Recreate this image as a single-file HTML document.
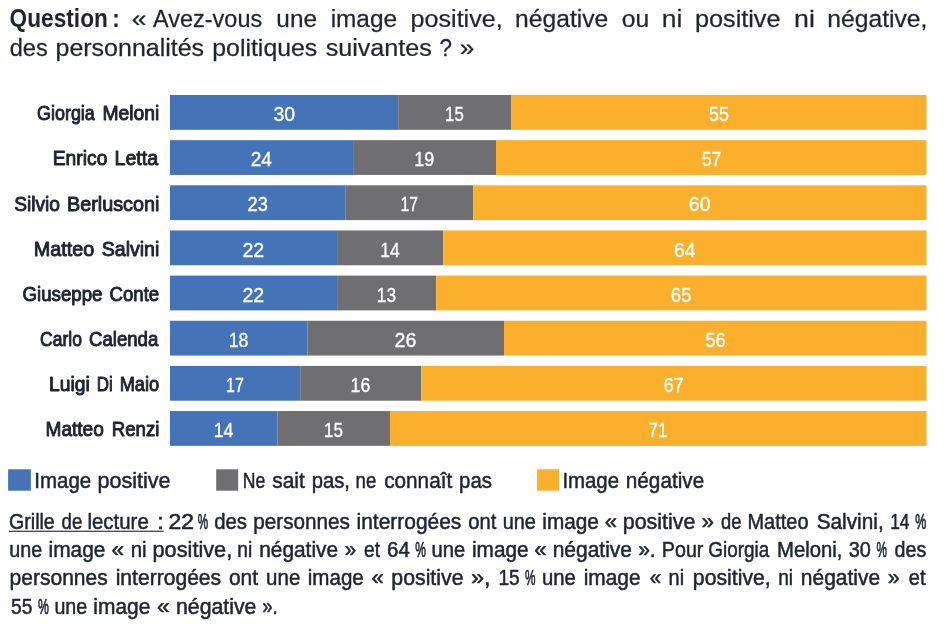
<!DOCTYPE html>
<html lang="fr"><head><meta charset="utf-8"><title>Image des personnalités politiques</title>
<style>html,body{margin:0;padding:0;background:#fff;overflow:hidden}svg{display:block}text{font-family:"Liberation Sans",sans-serif;white-space:pre}.title{font-size:24.5px;font-weight:normal;fill:#1e2432;stroke:#1e2432;stroke-width:0.25;stroke-linejoin:round;}.titleb{font-size:25.5px;font-weight:bold;fill:#1e2432;}.label{font-size:20.5px;font-weight:normal;fill:#1e2432;stroke:#1e2432;stroke-width:0.95;stroke-linejoin:round;}.num{font-size:20.7px;font-weight:normal;fill:#ffffff;stroke:#ffffff;stroke-width:0.35;stroke-linejoin:round;}.leg{font-size:22px;font-weight:normal;fill:#1e2432;stroke:#1e2432;stroke-width:0.5;stroke-linejoin:round;}.foot{font-size:21.5px;font-weight:normal;fill:#1e2432;stroke:#1e2432;stroke-width:0.5;stroke-linejoin:round;}.pct{font-size:15px;font-weight:normal;fill:#1e2432;stroke:#1e2432;stroke-width:0.5;stroke-linejoin:round;}</style></head><body>
<svg width="948" height="626" viewBox="0 0 948 626">
<rect x="0" y="0" width="948" height="626" fill="#ffffff"/>
<rect x="170.00" y="95.00" width="228.20" height="34.80" fill="#4573b7"/>
<rect x="398.20" y="95.00" width="112.80" height="34.80" fill="#6f6f72"/>
<rect x="511.00" y="95.00" width="415.50" height="34.80" fill="#fbb02d"/>
<rect x="170.00" y="140.15" width="183.10" height="34.80" fill="#4573b7"/>
<rect x="353.10" y="140.15" width="142.90" height="34.80" fill="#6f6f72"/>
<rect x="496.00" y="140.15" width="430.50" height="34.80" fill="#fbb02d"/>
<rect x="170.00" y="185.30" width="175.70" height="34.80" fill="#4573b7"/>
<rect x="345.70" y="185.30" width="127.60" height="34.80" fill="#6f6f72"/>
<rect x="473.30" y="185.30" width="453.20" height="34.80" fill="#fbb02d"/>
<rect x="170.00" y="230.45" width="167.10" height="34.80" fill="#4573b7"/>
<rect x="337.10" y="230.45" width="106.20" height="34.80" fill="#6f6f72"/>
<rect x="443.30" y="230.45" width="483.20" height="34.80" fill="#fbb02d"/>
<rect x="170.00" y="275.60" width="167.10" height="34.80" fill="#4573b7"/>
<rect x="337.10" y="275.60" width="99.10" height="34.80" fill="#6f6f72"/>
<rect x="436.20" y="275.60" width="490.30" height="34.80" fill="#fbb02d"/>
<rect x="170.00" y="320.75" width="137.50" height="34.80" fill="#4573b7"/>
<rect x="307.50" y="320.75" width="196.50" height="34.80" fill="#6f6f72"/>
<rect x="504.00" y="320.75" width="422.50" height="34.80" fill="#fbb02d"/>
<rect x="170.00" y="365.90" width="130.20" height="34.80" fill="#4573b7"/>
<rect x="300.20" y="365.90" width="121.00" height="34.80" fill="#6f6f72"/>
<rect x="421.20" y="365.90" width="505.30" height="34.80" fill="#fbb02d"/>
<rect x="170.00" y="411.05" width="107.50" height="34.80" fill="#4573b7"/>
<rect x="277.50" y="411.05" width="112.50" height="34.80" fill="#6f6f72"/>
<rect x="390.00" y="411.05" width="536.50" height="34.80" fill="#fbb02d"/>
<rect x="8.10" y="469.30" width="22.80" height="21.40" fill="#4573b7"/>
<rect x="216.20" y="469.30" width="22.00" height="21.40" fill="#6f6f72"/>
<rect x="537.10" y="469.30" width="22.00" height="21.40" fill="#fbb02d"/>
<rect x="9.0" y="530.7" width="154.6" height="1.1" fill="#1e2432"/>
<text class="titleb" transform="translate(9.61 26.50) scale(0.8895 1)">Question</text>
<text class="titleb" transform="translate(112.24 26.50) scale(0.8800 1)">:</text>
<text class="title" transform="translate(131.75 26.50) scale(1.0857 1)">«</text>
<text class="title" transform="translate(153.12 26.50) scale(0.9576 1)">Avez-vous</text>
<text class="title" transform="translate(276.33 26.50) scale(0.9949 1)">une</text>
<text class="title" transform="translate(330.63 26.50) scale(0.9961 1)">image</text>
<text class="title" transform="translate(410.60 26.50) scale(1.0250 1)">positive,</text>
<text class="title" transform="translate(515.12 26.50) scale(1.0060 1)">négative</text>
<text class="title" transform="translate(621.82 26.50) scale(1.0050 1)">ou</text>
<text class="title" transform="translate(661.86 26.50) scale(1.0785 1)">ni</text>
<text class="title" transform="translate(694.90 26.50) scale(1.0319 1)">positive</text>
<text class="title" transform="translate(794.05 26.50) scale(1.0903 1)">ni</text>
<text class="title" transform="translate(827.22 26.50) scale(1.0085 1)">négative,</text>
<text class="title" transform="translate(9.66 56.00) scale(0.9636 1)">des</text>
<text class="title" transform="translate(55.51 56.00) scale(1.0198 1)">personnalités</text>
<text class="title" transform="translate(212.31 56.00) scale(1.0145 1)">politiques</text>
<text class="title" transform="translate(325.63 56.00) scale(1.0270 1)">suivantes</text>
<text class="title" transform="translate(439.60 56.00) scale(0.9143 1)">?</text>
<text class="title" transform="translate(459.66 56.00) scale(1.0694 1)">»</text>
<text class="label" transform="translate(37.04 120.30) scale(0.8742 1)">Giorgia</text>
<text class="label" transform="translate(102.51 120.30) scale(0.9417 1)">Meloni</text>
<text class="label" transform="translate(52.76 165.47) scale(0.9409 1)">Enrico</text>
<text class="label" transform="translate(114.50 165.47) scale(0.9601 1)">Letta</text>
<text class="label" transform="translate(14.19 210.64) scale(0.9337 1)">Silvio</text>
<text class="label" transform="translate(66.99 210.64) scale(0.9652 1)">Berlusconi</text>
<text class="label" transform="translate(33.74 255.81) scale(0.9683 1)">Matteo</text>
<text class="label" transform="translate(101.70 255.81) scale(0.9550 1)">Salvini</text>
<text class="label" transform="translate(22.52 300.98) scale(0.9106 1)">Giuseppe</text>
<text class="label" transform="translate(109.52 300.98) scale(0.9087 1)">Conte</text>
<text class="label" transform="translate(40.05 346.15) scale(0.8550 1)">Carlo</text>
<text class="label" transform="translate(89.02 346.15) scale(0.9075 1)">Calenda</text>
<text class="label" transform="translate(49.11 391.32) scale(0.9413 1)">Luigi</text>
<text class="label" transform="translate(96.77 391.32) scale(0.8265 1)">Di</text>
<text class="label" transform="translate(119.63 391.32) scale(0.8913 1)">Maio</text>
<text class="label" transform="translate(45.51 436.49) scale(0.9306 1)">Matteo</text>
<text class="label" transform="translate(111.82 436.49) scale(0.9072 1)">Renzi</text>
<text class="num" transform="translate(273.51 121.00) scale(0.9407 1)">30</text>
<text class="num" transform="translate(445.05 121.00) scale(0.8122 1)">15</text>
<text class="num" transform="translate(709.03 121.00) scale(0.8641 1)">55</text>
<text class="num" transform="translate(250.69 166.17) scale(0.9243 1)">24</text>
<text class="num" transform="translate(414.33 166.17) scale(0.8694 1)">19</text>
<text class="num" transform="translate(701.65 166.17) scale(0.8532 1)">57</text>
<text class="num" transform="translate(247.50 211.34) scale(0.8808 1)">23</text>
<text class="num" transform="translate(400.49 211.34) scale(0.7664 1)">17</text>
<text class="num" transform="translate(688.74 211.34) scale(0.9494 1)">60</text>
<text class="num" transform="translate(242.39 256.51) scale(0.9494 1)">22</text>
<text class="num" transform="translate(380.25 256.51) scale(0.8465 1)">14</text>
<text class="num" transform="translate(673.88 256.51) scale(0.9380 1)">64</text>
<text class="num" transform="translate(242.39 301.68) scale(0.9494 1)">22</text>
<text class="num" transform="translate(376.84 301.68) scale(0.8350 1)">13</text>
<text class="num" transform="translate(670.86 301.68) scale(0.8922 1)">65</text>
<text class="num" transform="translate(228.67 346.85) scale(0.8579 1)">18</text>
<text class="num" transform="translate(394.59 346.85) scale(0.9494 1)">26</text>
<text class="num" transform="translate(705.40 346.85) scale(0.8751 1)">56</text>
<text class="num" transform="translate(226.09 392.02) scale(0.7664 1)">17</text>
<text class="num" transform="translate(350.62 392.02) scale(0.8579 1)">16</text>
<text class="num" transform="translate(663.77 392.02) scale(0.8579 1)">67</text>
<text class="num" transform="translate(213.67 437.19) scale(0.8579 1)">14</text>
<text class="num" transform="translate(324.07 437.19) scale(0.8236 1)">15</text>
<text class="num" transform="translate(648.57 437.19) scale(0.8236 1)">71</text>
<text class="leg" transform="translate(34.37 488.10) scale(0.9291 1)">Image</text>
<text class="leg" transform="translate(97.46 488.10) scale(0.9803 1)">positive</text>
<text class="leg" transform="translate(242.80 488.10) scale(0.7996 1)">Ne</text>
<text class="leg" transform="translate(272.34 488.10) scale(0.9473 1)">sait</text>
<text class="leg" transform="translate(311.71 488.10) scale(0.9207 1)">pas,</text>
<text class="leg" transform="translate(355.56 488.10) scale(0.8468 1)">ne</text>
<text class="leg" transform="translate(384.24 488.10) scale(0.9414 1)">connaît</text>
<text class="leg" transform="translate(459.11 488.10) scale(0.9236 1)">pas</text>
<text class="leg" transform="translate(562.38 488.10) scale(0.9275 1)">Image</text>
<text class="leg" transform="translate(625.79 488.10) scale(0.9437 1)">négative</text>
<text class="foot" transform="translate(9.02 528.50) scale(0.9115 1)">Grille</text>
<text class="foot" transform="translate(61.62 528.50) scale(0.8697 1)">de</text>
<text class="foot" transform="translate(87.49 528.50) scale(0.9497 1)">lecture</text>
<text class="foot" transform="translate(156.93 528.50) scale(1.1556 1)">:</text>
<text class="foot" transform="translate(168.40 528.50) scale(1.0687 1)">22</text>
<text class="pct" transform="translate(197.79 528.50) scale(0.7778 1.46)">%</text>
<text class="foot" transform="translate(214.14 528.50) scale(0.9473 1)">des</text>
<text class="foot" transform="translate(253.18 528.50) scale(0.9642 1)">personnes</text>
<text class="foot" transform="translate(356.57 528.50) scale(0.9745 1)">interrogées</text>
<text class="foot" transform="translate(468.24 528.50) scale(0.9403 1)">ont</text>
<text class="foot" transform="translate(502.70 528.50) scale(0.9269 1)">une</text>
<text class="foot" transform="translate(542.27 528.50) scale(0.9667 1)">image</text>
<text class="foot" transform="translate(604.86 528.50) scale(1.0320 1)">«</text>
<text class="foot" transform="translate(622.75 528.50) scale(0.9980 1)">positive</text>
<text class="foot" transform="translate(701.46 528.50) scale(1.0400 1)">»</text>
<text class="foot" transform="translate(721.01 528.50) scale(0.8526 1)">de</text>
<text class="foot" transform="translate(747.50 528.50) scale(0.9284 1)">Matteo</text>
<text class="foot" transform="translate(816.64 528.50) scale(0.9675 1)">Salvini,</text>
<text class="foot" transform="translate(890.19 528.50) scale(0.8100 1)">14</text>
<text class="pct" transform="translate(915.31 528.50) scale(0.8222 1.46)">%</text>
<text class="foot" transform="translate(9.31 556.60) scale(0.9182 1)">une</text>
<text class="foot" transform="translate(48.57 556.60) scale(0.9720 1)">image</text>
<text class="foot" transform="translate(111.56 556.60) scale(1.0560 1)">«</text>
<text class="foot" transform="translate(130.69 556.60) scale(0.9510 1)">ni</text>
<text class="foot" transform="translate(152.54 556.60) scale(1.0104 1)">positive,</text>
<text class="foot" transform="translate(237.33 556.60) scale(0.8928 1)">ni</text>
<text class="foot" transform="translate(259.27 556.60) scale(0.9696 1)">négative</text>
<text class="foot" transform="translate(344.74 556.60) scale(0.9520 1)">»</text>
<text class="foot" transform="translate(364.02 556.60) scale(0.8940 1)">et</text>
<text class="foot" transform="translate(387.08 556.60) scale(0.9549 1)">64</text>
<text class="pct" transform="translate(415.20 556.60) scale(0.8000 1.46)">%</text>
<text class="foot" transform="translate(431.60 556.60) scale(0.9386 1)">une</text>
<text class="foot" transform="translate(471.97 556.60) scale(0.9685 1)">image</text>
<text class="foot" transform="translate(534.26 556.60) scale(1.0320 1)">«</text>
<text class="foot" transform="translate(552.67 556.60) scale(0.9758 1)">négative</text>
<text class="foot" transform="translate(638.14 556.60) scale(0.9795 1)">».</text>
<text class="foot" transform="translate(661.81 556.60) scale(0.9161 1)">Pour</text>
<text class="foot" transform="translate(708.34 556.60) scale(0.8802 1)">Giorgia</text>
<text class="foot" transform="translate(777.09 556.60) scale(0.9435 1)">Meloni,</text>
<text class="foot" transform="translate(848.63 556.60) scale(0.9241 1)">30</text>
<text class="pct" transform="translate(876.40 556.60) scale(0.7852 1.46)">%</text>
<text class="foot" transform="translate(894.53 556.60) scale(0.9153 1)">des</text>
<text class="foot" transform="translate(9.57 585.20) scale(0.9783 1)">personnes</text>
<text class="foot" transform="translate(115.66 585.20) scale(0.9811 1)">interrogées</text>
<text class="foot" transform="translate(228.94 585.20) scale(0.9765 1)">ont</text>
<text class="foot" transform="translate(266.09 585.20) scale(0.9531 1)">une</text>
<text class="foot" transform="translate(307.78 585.20) scale(0.9562 1)">image</text>
<text class="foot" transform="translate(371.56 585.20) scale(1.0320 1)">«</text>
<text class="foot" transform="translate(391.36 585.20) scale(0.9896 1)">positive</text>
<text class="foot" transform="translate(471.07 585.20) scale(1.0884 1)">»,</text>
<text class="foot" transform="translate(498.43 585.20) scale(0.8910 1)">15</text>
<text class="pct" transform="translate(524.90 585.20) scale(0.7852 1.46)">%</text>
<text class="foot" transform="translate(541.89 585.20) scale(0.9444 1)">une</text>
<text class="foot" transform="translate(583.67 585.20) scale(0.9720 1)">image</text>
<text class="foot" transform="translate(649.64 585.20) scale(0.9520 1)">«</text>
<text class="foot" transform="translate(668.61 585.20) scale(0.9251 1)">ni</text>
<text class="foot" transform="translate(692.86 585.20) scale(0.9871 1)">positive,</text>
<text class="foot" transform="translate(778.14 585.20) scale(0.8863 1)">ni</text>
<text class="foot" transform="translate(800.77 585.20) scale(0.9771 1)">négative</text>
<text class="foot" transform="translate(887.85 585.20) scale(0.9920 1)">»</text>
<text class="foot" transform="translate(908.83 585.20) scale(0.9319 1)">et</text>
<text class="foot" transform="translate(11.12 613.70) scale(0.8914 1)">55</text>
<text class="pct" transform="translate(38.00 613.70) scale(0.8148 1.46)">%</text>
<text class="foot" transform="translate(54.41 613.70) scale(0.9153 1)">une</text>
<text class="foot" transform="translate(93.37 613.70) scale(0.9737 1)">image</text>
<text class="foot" transform="translate(156.97 613.70) scale(1.0640 1)">«</text>
<text class="foot" transform="translate(176.01 613.70) scale(0.9896 1)">négative</text>
<text class="foot" transform="translate(262.21 613.70) scale(0.8592 1)">».</text>
</svg></body></html>
